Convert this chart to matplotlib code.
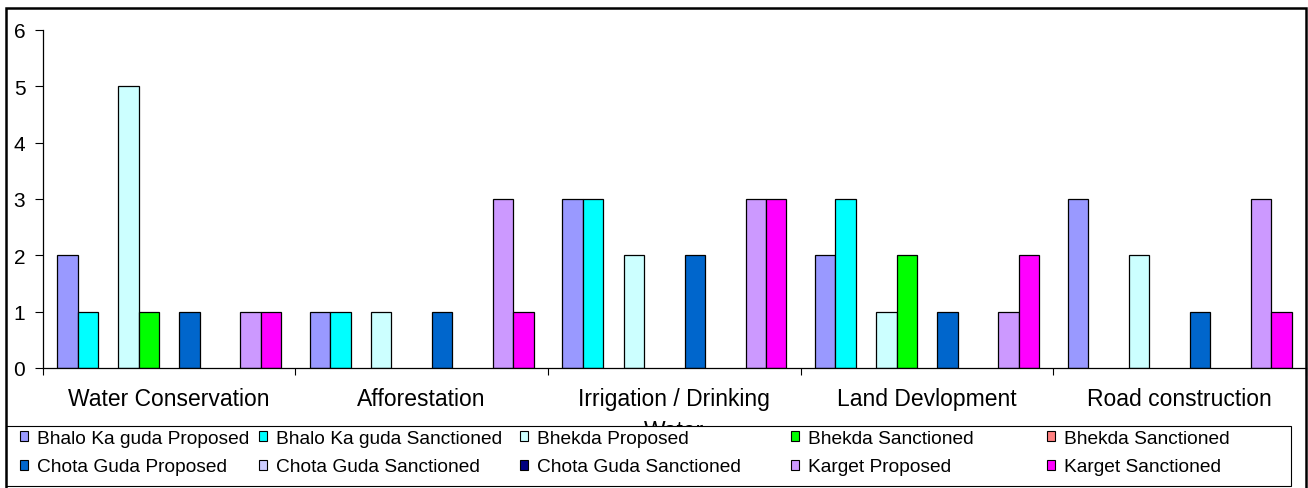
import numpy as np
import matplotlib
matplotlib.use("Agg")
import matplotlib.pyplot as plt
from matplotlib.patches import Rectangle, Patch

plt.rcParams['font.family'] = ['Liberation Sans', 'DejaVu Sans']

categories = ["Water Conservation", "Afforestation", "Irrigation / Drinking\nWater",
              "Land Devlopment", "Road construction"]
series_names = ["Bhalo Ka guda Proposed", "Bhalo Ka guda Sanctioned", "Bhekda Proposed",
                "Bhekda Sanctioned", "Bhekda Sanctioned", "Chota Guda Proposed",
                "Chota Guda Sanctioned", "Chota Guda Sanctioned", "Karget Proposed",
                "Karget Sanctioned"]
series_colors = ["#9999FF", "#00FFFF", "#CCFFFF", "#00FF00", "#FF8080",
                 "#0066CC", "#CCCCFF", "#000080", "#CC99FF", "#FF00FF"]
# one row per series, one column per category
values = [
    [2, 1, 3, 2, 3],
    [1, 1, 3, 3, 0],
    [5, 1, 2, 1, 2],
    [1, 0, 0, 2, 0],
    [0, 0, 0, 0, 0],
    [1, 1, 2, 1, 1],
    [0, 0, 0, 0, 0],
    [0, 0, 0, 0, 0],
    [1, 3, 3, 1, 3],
    [1, 1, 3, 2, 1],
]

W, H = 1308, 489
fig = plt.figure(figsize=(W / 100, H / 100), dpi=100)
ax = fig.add_axes([42.7 / W, 1 - 369 / H, (1306 - 42.7) / W, (369 - 31) / H])

x = np.arange(len(categories))
bw = 0.0805
nslots = 11  # the original chart keeps an empty (unlisted) series in the 3rd slot
for j, (name, col, vals) in enumerate(zip(series_names, series_colors, values)):
    slot = j if j < 2 else j + 1
    v = np.array(vals, dtype=float)
    keep = v > 0
    ax.bar(x[keep] + (slot - (nslots - 1) / 2) * bw, v[keep], width=bw, color=col,
           edgecolor="black", linewidth=0.9, label=name)

ax.set_xlim(-0.5, len(categories) - 0.5)
ax.set_ylim(0, 6)
ax.set_yticks(range(0, 7))
ax.tick_params(axis="y", direction="out", length=5.5, width=0.8, labelsize=15, pad=7)
ax.set_xticks(np.arange(-0.5, len(categories)), labels=[""] * (len(categories) + 1))
ax.tick_params(axis="x", which="major", direction="out", length=5, width=0.8)
ax.set_xticks(x, labels=categories, minor=True)
ax.tick_params(axis="x", which="minor", length=0, labelsize=16.5, pad=14)
for lab in ax.get_xticklabels(minor=True):
    lab.set_linespacing(1.45)
for s in ["top", "right"]:
    ax.spines[s].set_visible(False)
for s in ["left", "bottom"]:
    ax.spines[s].set_linewidth(0.9)

# outer chart border
fig.add_artist(Rectangle((6 / W, -0.05), 1300 / W, 1.05 - 9 / H, transform=fig.transFigure,
                         fill=False, edgecolor="black", linewidth=1.8, zorder=4))
# legend box
fig.add_artist(Rectangle((6 / W, 1 - 487 / H), (1291 - 6) / W, (487 - 427) / H,
                         transform=fig.transFigure, facecolor="white",
                         edgecolor="black", linewidth=0.8, zorder=3))

col_x = [20, 259, 520, 791, 1047]
for c in range(5):
    ids = [c, c + 5]
    handles = [Patch(facecolor=series_colors[i], edgecolor="black", linewidth=0.8) for i in ids]
    labels = [series_names[i] for i in ids]
    fig.legend(handles, labels, loc="upper left",
               bbox_to_anchor=(col_x[c] / W, 1 - 431 / H), frameon=False,
               fontsize=13.8, handlelength=0.42, handleheight=0.42,
               handletextpad=0.45, labelspacing=0.6, borderpad=0,
               borderaxespad=0).set_zorder(5)

fig.savefig("out.png", dpi=100)
